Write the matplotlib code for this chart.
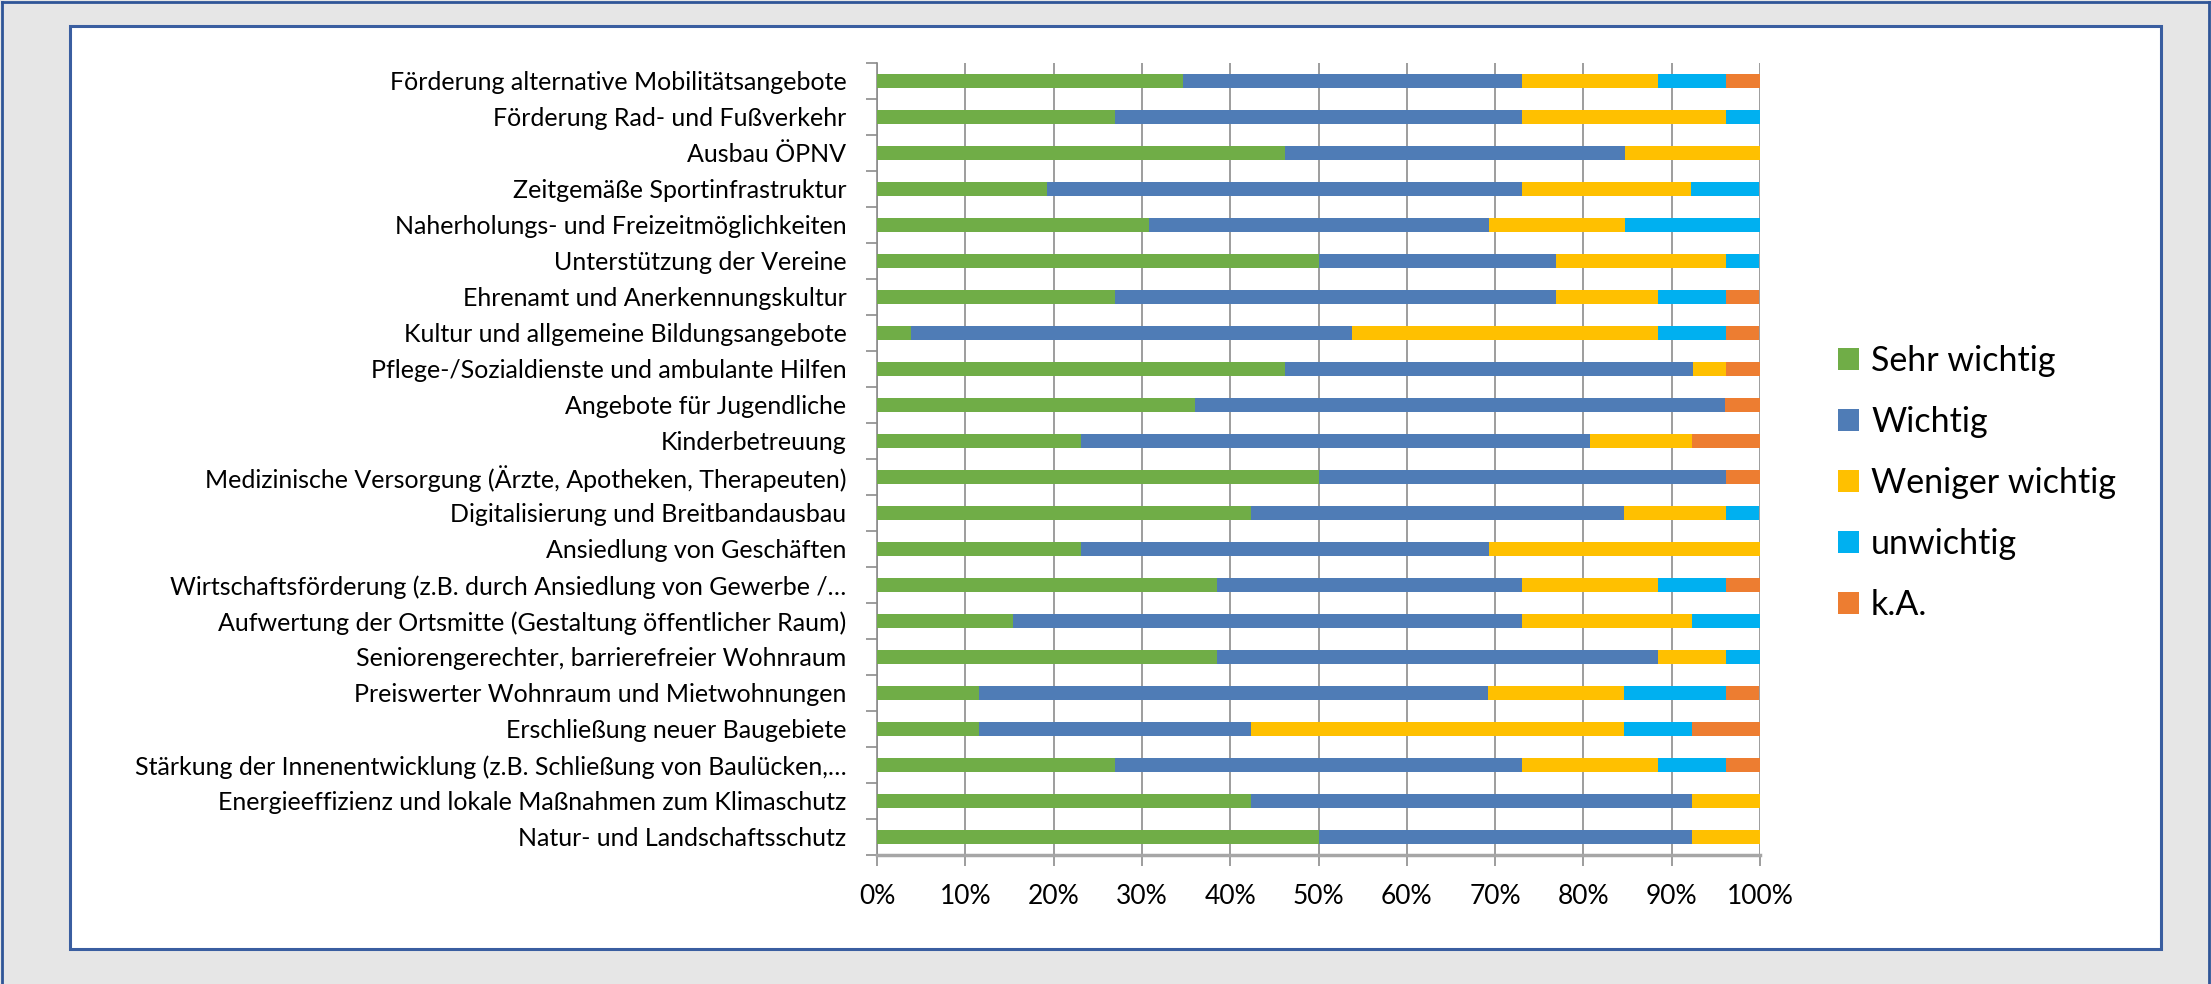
import matplotlib
matplotlib.use("Agg")
import matplotlib.pyplot as plt
from matplotlib.patches import Rectangle
from matplotlib.lines import Line2D
import numpy as np

categories = [
    "Förderung alternative Mobilitätsangebote",
    "Förderung Rad- und Fußverkehr",
    "Ausbau ÖPNV",
    "Zeitgemäße Sportinfrastruktur",
    "Naherholungs- und Freizeitmöglichkeiten",
    "Unterstützung der Vereine",
    "Ehrenamt und Anerkennungskultur",
    "Kultur und allgemeine Bildungsangebote",
    "Pflege-/Sozialdienste und ambulante Hilfen",
    "Angebote für Jugendliche",
    "Kinderbetreuung",
    "Medizinische Versorgung (Ärzte, Apotheken, Therapeuten)",
    "Digitalisierung und Breitbandausbau",
    "Ansiedlung von Geschäften",
    "Wirtschaftsförderung (z.B. durch Ansiedlung von Gewerbe /…",
    "Aufwertung der Ortsmitte (Gestaltung öffentlicher Raum)",
    "Seniorengerechter, barrierefreier Wohnraum",
    "Preiswerter Wohnraum und Mietwohnungen",
    "Erschließung neuer Baugebiete",
    "Stärkung der Innenentwicklung (z.B. Schließung von Baulücken,…",
    "Energieeffizienz und lokale Maßnahmen zum Klimaschutz",
    "Natur- und Landschaftsschutz",
]
sehr_wichtig = [34.6, 26.9, 46.2, 19.2, 30.8, 50.0, 26.9, 3.8, 46.2, 36.0, 23.1,
                50.0, 42.3, 23.1, 38.5, 15.4, 38.5, 11.5, 11.5, 26.9, 42.3, 50.0]
wichtig = [38.5, 46.2, 38.5, 53.8, 38.5, 26.9, 50.0, 50.0, 46.2, 60.0, 57.7,
           46.2, 42.3, 46.2, 34.6, 57.7, 50.0, 57.7, 30.8, 46.2, 50.0, 42.3]
weniger_wichtig = [15.4, 23.1, 15.4, 19.2, 15.4, 19.2, 11.5, 34.6, 3.8, 0.0, 11.5,
                   0.0, 11.5, 30.8, 15.4, 19.2, 7.7, 15.4, 42.3, 15.4, 7.7, 7.7]
unwichtig = [7.7, 3.8, 0.0, 7.7, 15.4, 3.8, 7.7, 7.7, 0.0, 0.0, 0.0,
             0.0, 3.8, 0.0, 7.7, 7.7, 3.8, 11.5, 7.7, 7.7, 0.0, 0.0]
keine_angabe = [3.8, 0.0, 0.0, 0.0, 0.0, 0.0, 3.8, 3.8, 3.8, 4.0, 7.7,
                3.8, 0.0, 0.0, 3.8, 0.0, 0.0, 3.8, 7.7, 3.8, 0.0, 0.0]

series_names = ["Sehr wichtig", "Wichtig", "Weniger wichtig", "unwichtig", "k.A."]
series_values = [sehr_wichtig, wichtig, weniger_wichtig, unwichtig, keine_angabe]
colors = ["#70AD47", "#4F7CB6", "#FFC000", "#00B0F0", "#ED7D31"]
x_ticks = [0, 10, 20, 30, 40, 50, 60, 70, 80, 90, 100]

plt.rcParams['font.family'] = ['Lato', 'DejaVu Sans']

W, H = 2211, 984
DPI = 100
fig = plt.figure(figsize=(W / DPI, H / DPI), dpi=DPI)
fig.patch.set_facecolor("#E6E6E6")

def fx(px):
    return px / W

def fy(py):
    return 1 - py / H

border_col = "#2F5597"
# outer border (left, top, right)
for xs, ys in [((2, 2), (H, 2)), ((2, W - 2), (2, 2)), ((W - 2, W - 2), (2, H))]:
    fig.add_artist(Line2D([fx(v) for v in xs], [fy(v) for v in ys],
                          transform=fig.transFigure, color=border_col,
                          linewidth=2.0, zorder=-3))
# inner white panel
fig.patches.append(Rectangle((fx(70), fy(949)), fx(2161 - 70), (949 - 26) / H,
                             transform=fig.transFigure, facecolor="white",
                             edgecolor="#3A5EA0", linewidth=2.2, zorder=-2))

left, right, top, bottom = 877, 1760, 63, 855
ax = fig.add_axes([fx(left), fy(bottom), fx(right - left), (bottom - top) / H])
ax.patch.set_alpha(0)

y = np.arange(len(categories))
cum = np.zeros(len(categories))
for name, vals, col in zip(series_names, series_values, colors):
    v = np.array(vals)
    ax.barh(y, v, left=cum, height=0.4, color=col, label=name,
            edgecolor="none", zorder=3)
    cum += v

ax.set_xlim(0, 100)
ax.set_ylim(len(categories) - 0.5, -0.5)

grid_col = "#8C8C8C"
ax.set_xticks(x_ticks)
ax.set_xticklabels([f"{t}%" for t in x_ticks], fontsize=19)
ax.xaxis.grid(True, color=grid_col, linewidth=1.2, zorder=0)
ax.tick_params(axis="x", direction="out", length=8, width=1.2, color=grid_col,
               pad=13, labelcolor="black")

ax.set_yticks(np.arange(len(categories) + 1) - 0.5)
ax.set_yticklabels([])
ax.tick_params(axis="y", which="major", direction="out", length=8, width=1.2,
               color=grid_col)
ax.set_yticks(y, minor=True)
ax.set_yticklabels(categories, minor=True, fontsize=18)
ax.tick_params(axis="y", which="minor", length=0, pad=22, labelcolor="black")

for s in ["top", "right"]:
    ax.spines[s].set_visible(False)
ax.spines["left"].set_color(grid_col)
ax.spines["left"].set_linewidth(1.2)
ax.spines["bottom"].set_color("#A6A6A6")
ax.spines["bottom"].set_linewidth(2.5)
ax.set_axisbelow(True)

leg = fig.legend(loc="center left", bbox_to_anchor=(fx(1838), fy(483)),
                 frameon=False, fontsize=24.5, handlelength=0.62, handleheight=0.62,
                 handletextpad=0.35, labelspacing=0.85, borderpad=0, borderaxespad=0)

fig.savefig("out.png", dpi=DPI, facecolor=fig.get_facecolor())
